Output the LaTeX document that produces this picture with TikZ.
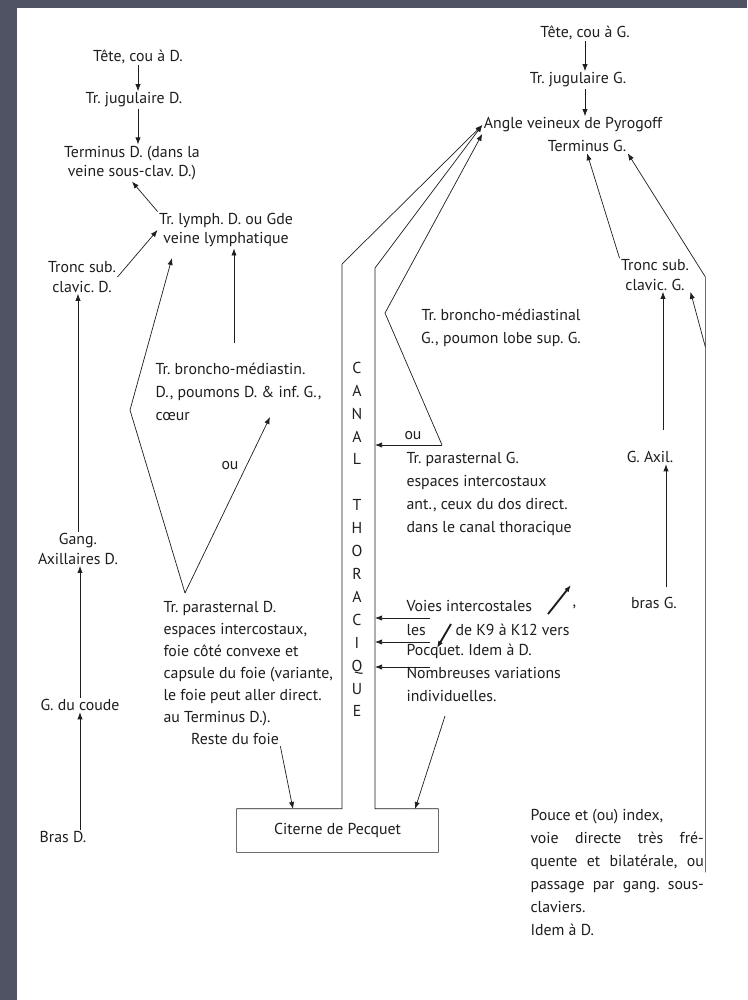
\documentclass[tikz,border=0pt]{standalone}
\usepackage{fontspec}
\setmainfont{PT Sans}
\usetikzlibrary{arrows.meta}
\definecolor{slide}{RGB}{80,83,99}
\definecolor{ink}{RGB}{30,30,30}
\frenchspacing
\tikzset{
  txt/.style={inner sep=1pt, text=ink, font=\fontsize{13.5}{16.5}\selectfont, align=center},
  wide/.style={txt, font=\fontsize{13.5}{19.5}\selectfont},
  para/.style={wide, align=left, anchor=north west},
  parad/.style={para, font=\fontsize{13.5}{18.7}\selectfont},
  canalbox/.style={txt, font=\fontsize{13.5}{19.55}\selectfont},
  citbox/.style={txt, minimum width=6.03cm, minimum height=1.29cm},
}

\begin{document}
\begin{tikzpicture}[x=0.03cm, y=-0.03cm, >={Latex[length=6pt,width=4.5pt]}, line width=0.6pt, color=ink]
                    \useasboundingbox (0,0) rectangle (747,1000);
                    \fill[slide] (0,0) rectangle (747,1000);
                    \fill[white] (17,8) rectangle (747,1000);

                    \node[txt] (teteD) at (138,57) {Tête, cou à D.};
                    \node[txt] (jugD) at (134,100) {Tr. jugulaire D.};
                    \node[txt] (termD) at (132,163) {Terminus D. (dans la\\veine sous-clav. D.)};
                    \node[txt] (lymphD) at (226,230) {Tr. lymph. D. ou Gde\\veine lymphatique};
                    \node[txt] (troncD) at (82,277) {Tronc sub.\\clavic. D.};
                    \node[txt] (axilD) at (78,549) {Gang.\\Axillaires D.};
                    \node[txt] (coudeD) at (80,705) {G. du coude};
                    \node[txt] (brasD) at (63,837) {Bras D.};
                    \node[para] (bronchoD) at (154,362) {Tr. broncho-médiastin.\\D., poumons D. \& inf. G.,\\cœur};
                    \node[parad] (parasD) at (162,600) {Tr. parasternal D.\\espaces intercostaux,\\foie côté convexe et\\capsule du foie (variante,\\le foie peut aller direct.\\au Terminus D.).};
                    \node[txt] (resteFoie) at (235,739) {Reste du foie};
                    \node[txt] (ouD) at (230,466) {ou};
                    \node[citbox] (citerne) at (337.5,830.5) {Citerne de Pecquet};
                    \node[canalbox] (canal) at (357,539.5) {C\\A\\N\\A\\L\\\mbox{}\\T\\H\\O\\R\\A\\C\\I\\Q\\U\\E};

                    \node[txt] (teteG) at (585,33) {Tête, cou à G.};
                    \node[txt] (jugG) at (578,80) {Tr. jugulaire G.};
                    \node[txt] (angle) at (573,125) {Angle veineux de Pyrogoff};
                    \node[txt] (termG) at (587,146) {Terminus G.};
                    \node[wide] (bronchoG) at (501,328) {Tr. broncho-médiastinal\\G., poumon lobe sup. G.};
                    \node[txt] (ouG) at (413,436) {ou};
                    \node[para] (parasG) at (405,451) {Tr. parasternal G.\\espaces intercostaux\\ant., ceux du dos direct.\\dans le canal thoracique};
                    \node[txt, anchor=west] (voies) at (405,606) {Voies intercostales};
                    \node[txt, anchor=west] (virg) at (571,607) {,};
                    \node[txt, anchor=west] (les) at (405,630) {les};
                    \node[txt, anchor=west] (k9) at (454,630) {de K9 à K12 vers};
                    \node[para] (pocq) at (405,643) {Pocquet. Idem à D.\\Nombreuses variations\\individuelles.};
                    \node[txt] (troncG) at (655,275) {Tronc sub.\\clavic. G.};
                    \node[txt] (axilG) at (650,457) {G. Axil.};
                    \node[txt] (brasG) at (654,603) {bras G.};
                    \node[para] (pouce) at (529,808) {Pouce et (ou) index,\\\makebox[5.2cm][s]{voie directe très fré-}\\\makebox[5.2cm][s]{quente et bilatérale, ou}\\\makebox[5.2cm][s]{passage par gang. sous-}\\claviers.\\Idem à D.};

                    \coordinate (canL) at (342,264);
                    \coordinate (canR) at (375,268);
                    \coordinate (pD) at (185,593);
                    \coordinate (vD) at (130,410);
                    \coordinate (tipL) at (172,258);
                    \coordinate (tipOu) at (270,417);
                    \coordinate (bD) at (234,343);
                    \coordinate (cit1) at (293,809);
                    \coordinate (cG) at (442,445);
                    \coordinate (vG) at (385,313);
                    \coordinate (v1) at (430,618);
                    \coordinate (v2) at (430,642);
                    \coordinate (v3) at (430,667);
                    \coordinate (fa) at (548,614);
                    \coordinate (fb) at (571,585);
                    \coordinate (fc) at (451,624);
                    \coordinate (fd) at (437,648);
                    \coordinate (ind) at (445,716);
                    \coordinate (cit2) at (415,809);
                    \coordinate (aG) at (663,430);
                    \coordinate (bG) at (666,587);
                    \coordinate (rt) at (706,277);
                    \coordinate (rm) at (706,347);

                    \draw[->] (teteD.south) -- (teteD.south |- jugD.north);
                    \draw[->] (jugD.south -| teteD.south) -- (teteD.south |- termD.north);
                    \draw[->] (lymphD.north west) -- (termD.south);
                    \draw[->] (troncD.east) -- (lymphD.west);
                    \draw[->] (axilD.north) -- (axilD.north |- troncD.south);
                    \draw[->] (coudeD.north) -- (coudeD.north |- axilD.south);
                    \draw[->] (brasD.north -| coudeD.south) -- (coudeD.south);
                    \draw[->] (bD) -- (bD |- lymphD.south);
                    \draw[->] (pD) -- (vD) -- (tipL);
                    \draw[->] (pD) -- (tipOu);
                    \draw[->] (resteFoie.south east) -- (cit1);
                    \draw[->] (citerne.north west) -- (citerne.south west) -- (citerne.south east) -- (citerne.north east) -- (canR |- citerne.north) -- (canR) -- (angle.west);
                    \draw[->] (citerne.north west) -- (canL |- citerne.north) -- (canL) -- (angle.west);

                    \draw[->] (teteG.south) -- (teteG.south |- jugG.north);
                    \draw[->] (jugG.south -| teteG.south) -- (teteG.south |- angle.north);
                    \draw[->] (cG) -- (vG) -- (angle.south west);
                    \draw[->] (cG) -- (cG -| canR);
                    \draw[->] (troncG.north west) -- (termG.south);
                    \draw[->] (aG) -- (aG |- troncG.south);
                    \draw[->] (bG) -- (bG |- axilG.south);
                    \draw[->] (pouce.east) -- (pouce.east |- rt) -- (termG.south east);
                    \draw[->] (pouce.east |- rm) -- (troncG.south east);
                    \draw[->] (v1) -- (v1 -| canR);
                    \draw[->] (v2) -- (v2 -| canR);
                    \draw[->] (v3) -- (v3 -| canR);
                    \draw[->, line width=1.6pt] (fa) -- (fb);
                    \draw[->, line width=1.6pt] (fc) -- (fd);
                    \draw[->] (ind) -- (cit2);
\end{tikzpicture}
\end{document}
